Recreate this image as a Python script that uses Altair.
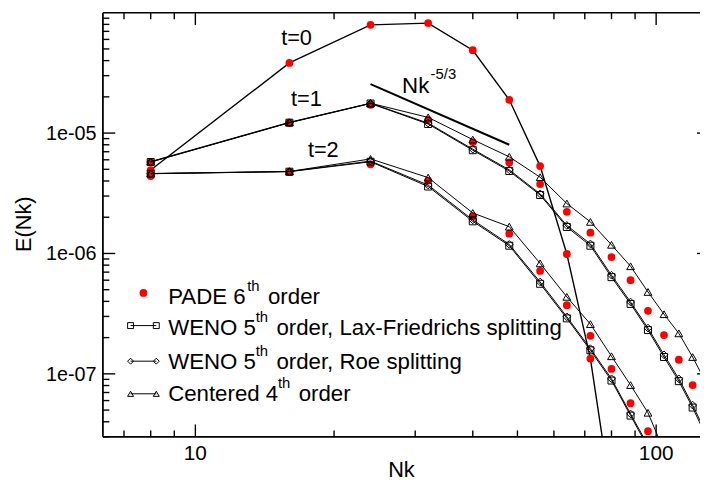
import altair as alt
import pandas as pd

FONT = "Liberation Sans"

# ---------------- data ----------------
N = [8, 16, 24, 32, 40, 48, 56, 64, 72, 80, 88, 96, 104, 112, 120, 128]

E_t0 = [4.93e-6, 3.83e-5, 7.93e-5, 8.2e-5, 4.88e-5, 1.89e-5, 5.32e-6, 9.9e-7, 1.34e-7, 9.2e-9]

pade_t1 = [5.74e-6, 1.22e-5, 1.72e-5, 1.29e-5, 8.43e-6, 5.71e-6, 3.77e-6, 2.22e-6, 1.49e-6,
           9.33e-7, 6.0e-7, 3.34e-7, 2.1e-7, 1.31e-7, 8.07e-8, 4.8e-8]
weno_lf_t1 = [5.75e-6, 1.22e-5, 1.76e-5, 1.19e-5, 7.21e-6, 4.84e-6, 3.06e-6, 1.66e-6, 1.16e-6,
              6.36e-7, 3.81e-7, 2.31e-7, 1.38e-7, 8.7e-8, 5.25e-8, 3.1e-8]
weno_roe_t1 = [5.75e-6, 1.22e-5, 1.77e-5, 1.21e-5, 7.35e-6, 4.95e-6, 3.13e-6, 1.71e-6, 1.2e-6,
               6.6e-7, 3.95e-7, 2.4e-7, 1.44e-7, 9.1e-8, 5.5e-8, 3.3e-8]
centered_t1 = [5.8e-6, 1.23e-5, 1.77e-5, 1.35e-5, 8.83e-6, 6.35e-6, 4.3e-6, 2.6e-6, 1.83e-6,
               1.18e-6, 7.83e-7, 4.79e-7, 3.13e-7, 2.17e-7, 1.38e-7, 8.6e-8]

pade_t2 = [4.4e-6, 4.75e-6, 5.5e-6, 4.03e-6, 2.04e-6, 1.46e-6, 7.16e-7, 3.72e-7, 2.07e-7,
           1.1e-7, 5.7e-8, 3.34e-8, 1.9e-8]
weno_lf_t2 = [4.6e-6, 4.78e-6, 5.78e-6, 3.6e-6, 1.85e-6, 1.16e-6, 5.6e-7, 2.89e-7, 1.57e-7,
              8.8e-8, 4.5e-8, 2.45e-8]
weno_roe_t2 = [4.6e-6, 4.8e-6, 5.85e-6, 3.7e-6, 1.9e-6, 1.19e-6, 5.8e-7, 2.98e-7, 1.62e-7,
               9.1e-8, 4.65e-8, 2.55e-8]
centered_t2 = [4.62e-6, 4.8e-6, 6.1e-6, 4.27e-6, 2.17e-6, 1.67e-6, 8.28e-7, 4.36e-7, 2.59e-7,
               1.4e-7, 8.07e-8, 4.75e-8, 2.3e-8]

slope_N = [24, 48]
slope_E = [2.55e-5, 8.0e-6]

time_labels = ["t=0", "t=1", "t=2"]
time_label_N = [16.58, 17.41, 18.95]
time_label_E = [5.43e-5, 1.69e-5, 6.35e-6]

slope_text = ["Nk", "-5/3"]
slope_text_N = [28.1, 32.4]
slope_text_E = [2.17e-5, 2.80e-5]

legend_main = ["PADE 6", "WENO 5", "WENO 5", "Centered 4"]
legend_sup = ["th", "th", "th", "th"]
legend_rest = ["order", "order, Lax-Friedrichs splitting", "order, Roe splitting", "order"]

x_title = "Nk"
y_title = "E(Nk)"
x_major = [10, 100]
x_labels = ["10", "100"]
x_minor = [7, 8, 9, 20, 30, 40, 50, 60, 70, 80, 90]
y_major = [1e-5, 1e-6, 1e-7]
y_labels = ["1e-05", "1e-06", "1e-07"]
y_minor = [m * 10.0 ** e for e in (-8, -7, -6, -5) for m in range(2, 10)]
y_minor = [v for v in y_minor if 3e-8 < v < 1e-4]

# ---------------- layout ----------------
W, H = 604, 429
xs = alt.Scale(type="log", domain=[6.3, 124.5], nice=False)
ys = alt.Scale(type="log", domain=[3e-8, 1e-4], nice=False)
X = alt.X("N:Q", scale=xs, axis=None)
Y = alt.Y("E:Q", scale=ys, axis=None)


def frame(yv, series):
    return pd.DataFrame({"N": N[:len(yv)], "E": yv, "series": series})


df_t0 = frame(E_t0, "t0")
df_pade = pd.concat([frame(pade_t1, "p1"), frame(pade_t2, "p2")])
df_lf = pd.concat([frame(weno_lf_t1, "lf1"), frame(weno_lf_t2, "lf2")])
df_roe = pd.concat([frame(weno_roe_t1, "r1"), frame(weno_roe_t2, "r2")])
df_cen = pd.concat([frame(centered_t1, "c1"), frame(centered_t2, "c2")])
df_slope = pd.DataFrame({"N": slope_N, "E": slope_E})

layers = []

# t=0 line
layers.append(alt.Chart(df_t0).mark_line(color="black", strokeWidth=1.4, clip=True).encode(x=X, y=Y))

# red PADE dots
df_red = pd.concat([df_t0, df_pade])
layers.append(alt.Chart(df_red).mark_circle(color="#ff0000", opacity=1, size=62, clip=True).encode(x=X, y=Y))

# method lines + hollow markers
for df, shape, size in [(df_lf, "square", 50), (df_roe, "diamond", 60), (df_cen, "triangle-up", 62)]:
    layers.append(alt.Chart(df).mark_line(color="black", strokeWidth=1, clip=True).encode(
        x=X, y=Y, detail="series:N"))
    layers.append(alt.Chart(df).mark_point(shape=shape, filled=False, color="black", size=size,
                                           strokeWidth=1, opacity=1, clip=True).encode(x=X, y=Y))

# -5/3 slope line
layers.append(alt.Chart(df_slope).mark_line(color="black", strokeWidth=2).encode(x=X, y=Y))

# annotations in data coordinates
df_tl = pd.DataFrame({"N": time_label_N, "E": time_label_E, "label": time_labels})
layers.append(alt.Chart(df_tl).mark_text(font=FONT, fontSize=22, color="black", align="center",
                                         baseline="alphabetic").encode(x=X, y=Y, text="label:N"))
df_st = pd.DataFrame({"N": slope_text_N[:1], "E": slope_text_E[:1], "label": slope_text[:1]})
layers.append(alt.Chart(df_st).mark_text(font=FONT, fontSize=22.5, color="black", align="left",
                                         baseline="alphabetic").encode(x=X, y=Y, text="label:N"))
df_st2 = pd.DataFrame({"N": slope_text_N[1:], "E": slope_text_E[1:], "label": slope_text[1:]})
layers.append(alt.Chart(df_st2).mark_text(font=FONT, fontSize=15, color="black", align="left",
                                          baseline="alphabetic").encode(x=X, y=Y, text="label:N"))

# ---------------- frame, inward ticks, tick labels, titles ----------------
TK = "black"
tw = 1.4
one = pd.DataFrame({"a": [0]})
dxM = pd.DataFrame({"v": x_major, "label": x_labels})
dxm = pd.DataFrame({"v": x_minor})
dyM = pd.DataFrame({"v": y_major, "label": y_labels})
dym = pd.DataFrame({"v": y_minor})
XV = alt.X("v:Q", scale=xs, axis=None)
YV = alt.Y("v:Q", scale=ys, axis=None)

# frame lines: bottom, left, top
layers.append(alt.Chart(one).mark_rule(color=TK, strokeWidth=1.8).encode(
    x=alt.value(0), x2=alt.value(W), y=alt.value(H)))
layers.append(alt.Chart(one).mark_rule(color=TK, strokeWidth=1.8).encode(
    x=alt.value(0), y=alt.value(0), y2=alt.value(H)))
layers.append(alt.Chart(one).mark_rule(color=TK, strokeWidth=1.6).encode(
    x=alt.value(0), x2=alt.value(W), y=alt.value(0)))

for d, L in [(dxM, 12.5), (dxm, 6.5)]:
    layers.append(alt.Chart(d).mark_rule(color=TK, strokeWidth=tw).encode(x=XV, y=alt.value(H), y2=alt.value(H - L)))
    layers.append(alt.Chart(d).mark_rule(color=TK, strokeWidth=tw).encode(x=XV, y=alt.value(0), y2=alt.value(L)))
for d, L in [(dyM, 12.5), (dym, 6.5)]:
    layers.append(alt.Chart(d).mark_rule(color=TK, strokeWidth=tw).encode(y=YV, x=alt.value(0), x2=alt.value(L)))
# right axis lies outside the picture: only the ends of its long ticks show
layers.append(alt.Chart(dyM).mark_rule(color=TK, strokeWidth=tw).encode(y=YV, x=alt.value(W - 3), x2=alt.value(W)))

# tick labels
layers.append(alt.Chart(dxM).mark_text(font=FONT, fontSize=21, color="black", align="center",
                                       baseline="alphabetic").encode(x=XV, y=alt.value(H + 23), text="label:N"))
layers.append(alt.Chart(dyM).mark_text(font=FONT, fontSize=20, color="black", align="right",
                                       baseline="alphabetic", dy=7).encode(y=YV, x=alt.value(-6.5), text="label:N"))
# axis titles
layers.append(alt.Chart(one).mark_text(text=x_title, font=FONT, fontSize=22, color="black", align="center",
                                       baseline="alphabetic").encode(x=alt.value(W / 2), y=alt.value(H + 41)))
layers.append(alt.Chart(one).mark_text(text=y_title, font=FONT, fontSize=22, color="black", align="center",
                                       baseline="alphabetic", angle=270).encode(x=alt.value(-73), y=alt.value(214)))

# ---------------- legend (hand drawn) ----------------
sym_y = [283.5, 316.5, 352.5, 385.5]
base_y = [295, 326, 360, 393]
sup_x = [146, 154.5, 154.5, 177]
rest_x = [167, 175.5, 175.5, 198]
shapes = [None, "square", "diamond", "triangle-up"]

layers.append(alt.Chart(one).mark_circle(color="#ff0000", opacity=1, size=62).encode(
    x=alt.value(41), y=alt.value(sym_y[0])))
for i in range(1, 4):
    layers.append(alt.Chart(one).mark_rule(color="black", strokeWidth=1).encode(
        x=alt.value(28), x2=alt.value(54), y=alt.value(sym_y[i])))
    for px in (28, 54):
        layers.append(alt.Chart(one).mark_point(shape=shapes[i], filled=False, color="black", size=36,
                                                strokeWidth=1, opacity=1).encode(
            x=alt.value(px), y=alt.value(sym_y[i])))
for i in range(4):
    layers.append(alt.Chart(one).mark_text(text=legend_main[i], font=FONT, fontSize=22.5, color="black",
                                           align="left", baseline="alphabetic").encode(
        x=alt.value(66), y=alt.value(base_y[i])))
    layers.append(alt.Chart(one).mark_text(text=legend_sup[i], font=FONT, fontSize=15, color="black",
                                           align="left", baseline="alphabetic").encode(
        x=alt.value(sup_x[i]), y=alt.value(base_y[i] - 13)))
    layers.append(alt.Chart(one).mark_text(text=legend_rest[i], font=FONT, fontSize=22.5, color="black",
                                           align="left", baseline="alphabetic").encode(
        x=alt.value(rest_x[i]), y=alt.value(base_y[i])))

chart = alt.layer(*layers).properties(
    width=W, height=H,
    autosize=alt.AutoSizeParams(type="none"),
    padding={"left": 96, "top": 2, "right": 0, "bottom": 47},
    background="white",
).configure_view(strokeWidth=0)

chart.save("out.html", embed_options={"renderer": "svg", "actions": False})
